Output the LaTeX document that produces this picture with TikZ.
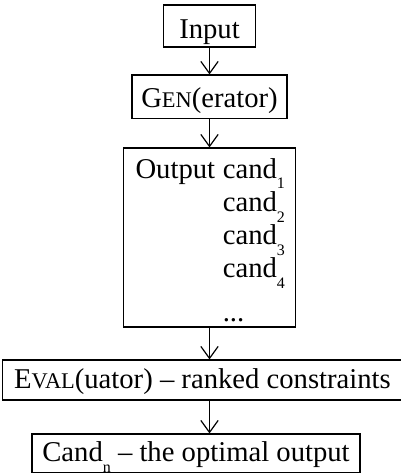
\documentclass[tikz,border=0pt]{standalone}
\usepackage{fontspec}
\setmainfont{Liberation Serif}
\usetikzlibrary{arrows.meta}
\newcommand{\smcap}[1]{{\fontsize{16.8}{18}\selectfont #1}}
\newcommand{\lowsub}[1]{\raisebox{-8pt}[0pt][0pt]{\fontsize{12}{13}\selectfont #1}}

\begin{document}
\begin{tikzpicture}[
    every node/.style={font=\fontsize{21.5}{25}\selectfont},
    box/.style={draw, line width=0.9pt, inner xsep=0pt, inner ysep=0pt, text depth=8.4pt},
    >={Straight Barb[length=9pt,width=13pt]}, line width=0.9pt]
    \def\x{0.02636}
    \def\y{-0.02636}
    \useasboundingbox (0,0) rectangle (400*\x, 476*\y);
    \node [box, minimum width=69pt, text height=25pt, text depth=6.5pt] (inp) at (209.5*\x, 26*\y) {Input};
    \node [box, minimum width=116.25pt, text height=24.2pt] (gen) at (209.5*\x, 96.75*\y) {G\smcap{EN}(erator)};
    \node [box, minimum width=129pt, inner xsep=9pt, text width=111pt, align=left,
           text height=22.5pt, text depth=111.75pt] (out) at (209.5*\x, 237.5*\y) {%
      \begin{tabular}[t]{@{}p{65.5pt}@{}l@{}}
        Output & cand\lowsub{1}\\
               & cand\lowsub{2}\\
               & cand\lowsub{3}\\
               & cand\lowsub{4}\\[8pt]
               & ...
      \end{tabular}};
    \node [box, minimum width=300pt, text height=21.2pt, text depth=8.8pt] (eval) at (202.5*\x, 380*\y) {E\smcap{VAL}(uator) -- ranked constraints};
    \node [box, minimum width=246pt, text height=20.7pt, text depth=8.3pt] (cand) at (196*\x, 453.35*\y) {Cand\lowsub{n} -- the optimal output};
    \path (inp) edge [->] (gen);
    \path (gen) edge [->] (out);
    \path (out) edge [->] (out |- eval.north);
    \path (out |- eval.south) edge [->] (out |- cand.north);
  \end{tikzpicture}
\end{document}
